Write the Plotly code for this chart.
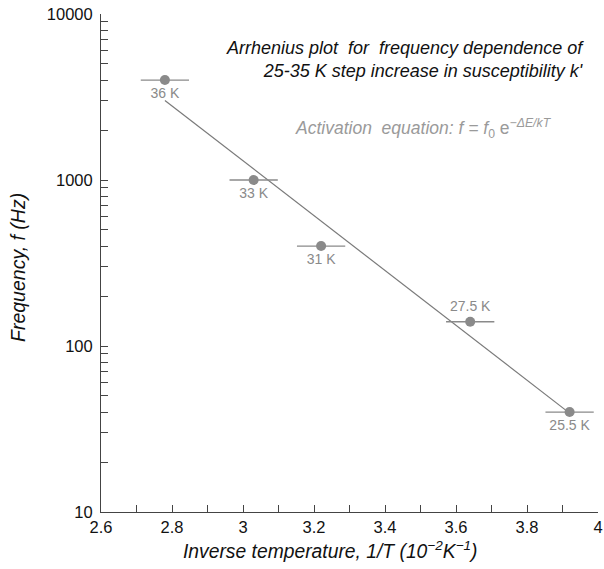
import numpy as np
import plotly.graph_objects as go

inv_T = [2.78, 3.03, 3.22, 3.64, 3.92]
freq = [4000, 1000, 400, 140, 40]
x_err = [0.068, 0.068, 0.068, 0.068, 0.068]
temp_labels = ["36 K", "33 K", "31 K", "27.5 K", "25.5 K"]
label_pos = ["bottom center", "bottom center", "bottom center", "top center", "bottom center"]

x_ticks = [round(2.6 + 0.1 * i, 1) for i in range(15)]
x_ticktext = ["2.6", "", "2.8", "", "3", "", "3.2", "", "3.4", "", "3.6", "", "3.8", "", "4"]
y_ticks = [m * 10 ** e for e in range(1, 4) for m in range(1, 10)] + [10000]
y_ticktext = [(str(m * 10 ** e) if m == 1 else "") for e in range(1, 4) for m in range(1, 10)] + ["10000"]

# Linear fit of log10(f) vs 1/T
slope, icpt = np.polyfit(inv_T, np.log10(freq), 1)
fit_x = [min(inv_T), max(inv_T)]
fit_y = [10 ** (icpt + slope * x) for x in fit_x]

font = "Liberation Sans, Arial, Helvetica, sans-serif"
grey = "#8a8a8a"

fig = go.Figure()
fig.add_trace(go.Scatter(x=fit_x, y=fit_y, mode="lines",
                         line=dict(color="#7a7a7a", width=1.2), hoverinfo="skip"))
fig.add_trace(go.Scatter(
    x=inv_T, y=freq, mode="markers+text",
    marker=dict(color=grey, size=10),
    error_x=dict(type="data", array=x_err, color=grey, thickness=1.3, width=0),
    text=temp_labels, textposition=label_pos,
    textfont=dict(family=font, size=14, color=grey),
))

fig.add_annotation(x=1, xref="paper", y=0.908, yref="paper", xanchor="right", yanchor="middle",
                   showarrow=False, align="right",
                   text="<i>Arrhenius plot  for  frequency dependence of</i><br><i>25-35 K step increase in susceptibility k'</i>",
                   font=dict(family=font, size=18, color="#111"), xshift=-12)
fig.add_annotation(x=1, xref="paper", y=0.771, yref="paper", xanchor="right", yanchor="middle",
                   showarrow=False,
                   text="<i>Activation  equation: f = f</i><sub>0</sub> e<sup><i>−ΔE/kT</i></sup>",
                   font=dict(family=font, size=17.5, color="#9a9a9a"), xshift=-44)
# axis titles
fig.add_annotation(x=0.461, xref="paper", y=-0.076, yref="paper", xanchor="center", yanchor="middle",
                   showarrow=False,
                   text="<i>Inverse temperature, 1/T (10<sup>−2</sup>K<sup>−1</sup>)</i>",
                   font=dict(family=font, size=19.3, color="#111"))
fig.add_annotation(x=-0.167, xref="paper", y=0.49, yref="paper", xanchor="center", yanchor="middle",
                   showarrow=False, textangle=-90,
                   text="<i>Frequency, f (Hz)</i>",
                   font=dict(family=font, size=19.5, color="#111"))

fig.update_layout(
    width=604, height=569,
    margin=dict(l=101, r=6, t=14, b=57),
    plot_bgcolor="white", paper_bgcolor="white",
    showlegend=False,
    font=dict(family=font, size=16.5, color="#111"),
    xaxis=dict(range=[2.6, 4.0], tickvals=x_ticks, ticktext=x_ticktext, automargin=False,
               ticks="inside", ticklen=7, tickcolor="#444", showline=True, linecolor="#444",
               linewidth=1, showgrid=False, zeroline=False, ticklabelstandoff=0,
               ticklabeloverflow="allow"),
    yaxis=dict(type="log", range=[1, 4], tickvals=y_ticks, ticktext=y_ticktext, automargin=False,
               ticks="inside", ticklen=7, tickcolor="#444", showline=True, linecolor="#444",
               linewidth=1, showgrid=False, zeroline=False, ticklabelstandoff=4,
               ticklabeloverflow="allow"),
)

# remove the browser's default 8px body margin so the figure fills the window exactly
fig.write_html("out.html", config={"displayModeBar": False},
               post_script="document.body.style.margin='0';")
